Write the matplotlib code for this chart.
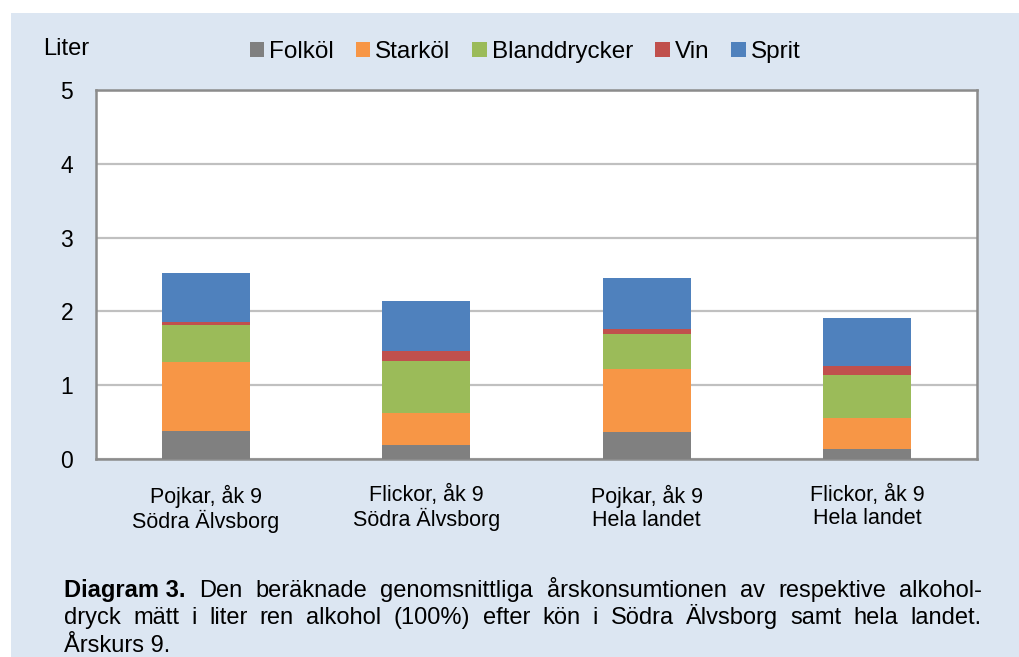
import matplotlib
matplotlib.use("Agg")
import matplotlib.pyplot as plt
from matplotlib.patches import Patch, Rectangle
import numpy as np

plt.rcParams['font.family'] = ['Liberation Sans', 'DejaVu Sans']

# data (liter ren alkohol)
groups = ["Pojkar, åk 9\nSödra Älvsborg", "Flickor, åk 9\nSödra Älvsborg",
          "Pojkar, åk 9\nHela landet", "Flickor, åk 9\nHela landet"]
drinks = ["Folköl", "Starköl", "Blanddrycker", "Vin", "Sprit"]
folkol = [0.38, 0.19, 0.36, 0.14]
starkol = [0.94, 0.44, 0.86, 0.41]
bland = [0.49, 0.70, 0.48, 0.59]
vin = [0.05, 0.13, 0.06, 0.12]
sprit = [0.66, 0.68, 0.69, 0.65]
colors = ["#808080", "#F79646", "#9BBB59", "#C0504D", "#4F81BD"]

bg = "#DCE6F2"
fig = plt.figure(figsize=(10.19, 6.57), dpi=100)
fig.patch.set_facecolor("white")
fig.patches.append(Rectangle((11 / 1019, 0), 1, 1 - 13 / 657, transform=fig.transFigure,
                             facecolor=bg, edgecolor="none", zorder=-5))

ax = fig.add_axes([96 / 1019, 1 - 459 / 657, 881 / 1019, 369 / 657])
ax.set_zorder(2)
ax.set_facecolor("white")

x = np.arange(len(groups))
bottom = np.zeros(len(groups))
for vals, c in zip([folkol, starkol, bland, vin, sprit], colors):
    ax.bar(x, vals, 0.4, bottom=bottom, color=c, zorder=3)
    bottom += np.array(vals)

ax.set_xlim(-0.5, 3.5)
ax.set_ylim(0, 5)
ax.set_yticks(range(6))
ax.yaxis.grid(True, color="#C0C0C0", linewidth=1.6, zorder=0)
ax.set_xticks(x)
ax.set_xticklabels(groups, fontsize=15.5, linespacing=1.12)
ax.tick_params(axis="both", length=0)
ax.tick_params(axis="y", pad=16.5, labelsize=16.5)
ax.tick_params(axis="x", pad=18.5)
for s in ax.spines.values():
    s.set_color("#8C8C8C")
    s.set_linewidth(1.8)

fig.text(43 / 1019, 1 - 49 / 657, "Liter", fontsize=17, va="center", ha="left")

handles = [Patch(facecolor=c, edgecolor="none") for c in colors]
fig.legend(handles, drinks, loc="center", bbox_to_anchor=(525 / 1019, 1 - 52 / 657),
           ncol=5, frameon=False, fontsize=17.5, handlelength=0.6, handleheight=0.6,
           handletextpad=0.2, columnspacing=0.9)

# caption, justified lines
cap_lines = [
    [("Diagram 3.", "bold")] + [(w, "normal") for w in
        "Den beräknade genomsnittliga årskonsumtionen av respektive alkohol-".split()],
    [(w, "normal") for w in
        "dryck mätt i liter ren alkohol (100%) efter kön i Södra Älvsborg samt hela landet.".split()],
    [("Årskurs 9.", "normal")],
]
x0, x1 = 64, 982
ys = [597, 624, 652]
cfs = 17
fig.canvas.draw()
r = fig.canvas.get_renderer()
for line, ypix, just in zip(cap_lines, ys, [True, True, False]):
    texts = [fig.text(0, 1 - ypix / 657, w, fontsize=cfs, fontweight=fw, va="baseline", ha="left")
             for w, fw in line]
    widths = [t.get_window_extent(r).width for t in texts]
    if just and len(texts) > 1:
        gap = (x1 - x0 - sum(widths)) / (len(texts) - 1)
    else:
        gap = 5
    pos = x0
    for t, w in zip(texts, widths):
        t.set_x(pos / 1019)
        pos += w + gap

fig.savefig("out.png", dpi=100)
